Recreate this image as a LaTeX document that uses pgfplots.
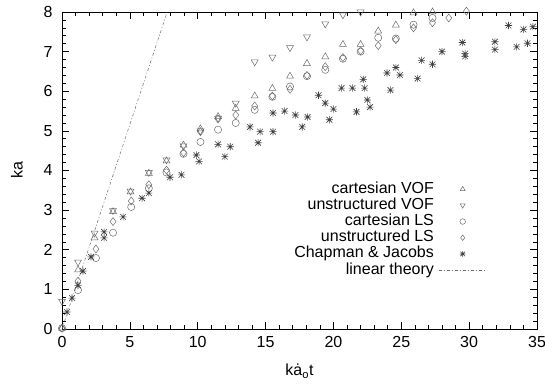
\documentclass[border=0pt]{standalone}
\usepackage{fontspec}
\setmainfont{Liberation Sans}
\usepackage{pgfplots}
\pgfplotsset{compat=1.18}
\usetikzlibrary{calc}
\pgfdeclareplotmark{cj}{%
  \pgfpathmoveto{\pgfqpoint{-\pgfplotmarksize}{0pt}}\pgfpathlineto{\pgfqpoint{\pgfplotmarksize}{0pt}}%
  \pgfpathmoveto{\pgfqpoint{0pt}{-\pgfplotmarksize}}\pgfpathlineto{\pgfqpoint{0pt}{\pgfplotmarksize}}%
  \pgfpathmoveto{\pgfqpoint{-0.8\pgfplotmarksize}{-0.8\pgfplotmarksize}}\pgfpathlineto{\pgfqpoint{0.8\pgfplotmarksize}{0.8\pgfplotmarksize}}%
  \pgfpathmoveto{\pgfqpoint{-0.8\pgfplotmarksize}{0.8\pgfplotmarksize}}\pgfpathlineto{\pgfqpoint{0.8\pgfplotmarksize}{-0.8\pgfplotmarksize}}%
  \pgfusepathqstroke}
\pgfplotsset{
  lineimg/.style={legend image code/.code={\draw[##1] (0pt,0pt) -- (48pt,0pt);}},
  markimg/.style={legend image code/.code={\draw[##1, mark size=2.8pt] plot coordinates {(24pt,0pt)};}},
}
\definecolor{mk}{gray}{0.42}
\definecolor{mkd}{gray}{0.25}
\begin{document}
\begin{tikzpicture}
\begin{axis}[
  name=ax,
  scale only axis,
  width=475pt, height=317pt,
  xmin=0, xmax=35, ymin=0, ymax=8,
  xtick={0,5,...,35}, ytick={0,1,...,8},
  minor x tick num=4, minor y tick num=4,
  tick align=inside,
  major tick length=7pt, minor tick length=4pt,
  every tick/.style={black, line width=0.6pt},
  axis line style={line width=0.9pt},
  clip=false,
  font=\fontsize{16}{19}\selectfont,
  /pgf/number format/assume math mode=true,
  xticklabel style={yshift=-4pt},
  yticklabel style={xshift=-6pt},
  xlabel={k\.a\textsubscript{o}t},
  ylabel={ka},
  xlabel style={at={(axis description cs:0.5,-0.148)}, anchor=base},
  ylabel style={at={(axis description cs:-0.095,0.5)}, anchor=center},
  legend plot pos=right,
  legend cell align=right,
  legend style={draw=none, fill=none, at={(0.895,0.467)}, anchor=north east,
    inner sep=0pt, row sep=0.2pt, column sep=4pt,
    nodes={inner sep=0.5pt, text height=11.5pt, text depth=3.5pt},
    font=\fontsize{16}{19}\selectfont},
]
\addplot[only marks, mark=triangle, mark size=4pt, mk, line width=0.5pt, markimg] coordinates {
(0,0.02) (1.18,1.49) (2.4,2.30) (3.76,2.96) (5.05,3.46) (6.4,3.93) (7.7,4.24)
(8.95,4.64) (10.2,5.05) (11.5,5.36) (12.8,5.57) (14.2,5.88) (15.5,6.07) (16.8,6.38)
(18.05,6.70) (19.4,6.87) (20.7,7.18) (22.0,7.18) (23.3,7.52) (24.6,7.67) (25.9,7.98) (27.3,8.0)};
\addlegendentry{cartesian VOF}
\addplot[only marks, mark=triangle, mark size=4pt, mark options={rotate=180}, mk, line width=0.5pt, markimg] coordinates {
(0,0.7) (1.18,1.69) (2.4,2.42) (3.76,2.99) (5.05,3.48) (6.4,3.95) (7.7,4.27)
(8.95,4.62) (10.2,5.0) (11.5,5.32) (12.8,5.70) (14.2,6.74) (15.5,6.86) (16.8,7.1)
(18.05,7.37) (19.4,7.7) (20.7,7.93) (22.0,8.0)};
\addlegendentry{unstructured VOF}
\addplot[only marks, mark=o, mark size=3.6pt, mk, line width=0.5pt, markimg] coordinates {
(0,0.02) (1.18,0.98) (2.5,1.79) (3.76,2.43) (5.1,3.08) (6.4,3.55) (7.7,3.95)
(8.95,4.42) (10.2,4.72) (11.5,5.03) (12.8,5.2) (14.2,5.53) (15.5,5.86) (16.8,6.12)
(18.05,6.38) (19.4,6.54) (20.7,6.82) (22.0,7.0) (23.3,7.35) (24.6,7.33) (25.9,7.68) (27.3,7.85)};
\addlegendentry{cartesian LS}
\addplot[only marks, mark=diamond, mark size=4pt, mk, line width=0.5pt, markimg] coordinates {
(0,0.02) (1.18,1.21) (2.5,2.02) (3.76,2.71) (5.1,3.23) (6.4,3.64) (7.7,4.01)
(8.95,4.45) (10.2,4.98) (11.5,5.30) (12.8,5.40) (14.2,5.63) (15.5,5.88) (16.8,6.05)
(18.05,6.40) (19.4,6.62) (20.7,6.85) (22.0,7.02) (23.3,7.15) (24.6,7.30) (25.9,7.60)
(27.3,7.73) (28.5,7.85) (29.8,8.02)};
\addlegendentry{unstructured LS}
\addplot[only marks, mark=cj, mark size=3.6pt, mkd, line width=0.6pt, markimg] coordinates {
(0.37,0.43) (0.74,0.78) (1.18,1.1) (1.55,1.46) (2.14,1.82) (3.1,2.45) (3.1,2.3)
(4.5,2.83) (5.9,3.3) (6.4,3.43) (7.96,3.83) (8.8,3.89) (9.9,4.39) (10.1,4.23)
(11.5,4.66) (12.0,4.35) (12.4,4.6) (13.85,5.1) (14.45,4.7) (14.6,4.98) (15.55,4.98)
(15.55,5.45) (16.4,5.5) (17.2,5.4) (17.7,5.1) (18.1,5.35) (18.9,5.9) (19.4,5.7)
(19.7,5.28) (20.0,5.55) (20.6,6.08) (21.4,6.08) (21.7,5.48) (22.2,6.3) (22.3,6.08)
(22.5,5.78) (22.7,5.6) (23.95,6.46) (24.2,6.03) (24.6,6.6) (24.9,6.41) (26.2,6.32)
(26.5,6.78) (27.3,6.68) (28.0,7.0) (29.5,7.23) (29.7,6.95) (29.7,6.88) (31.9,7.25)
(31.9,7.05) (32.9,7.66) (33.5,7.12) (34.0,7.56) (34.3,7.21) (34.7,7.63)};
\addlegendentry{Chapman \& Jacobs}
\addplot[mk, line width=0.5pt, dash pattern=on 3pt off 2pt on 1pt off 2pt, lineimg] coordinates {(0,0) (7.75,8)};
\addlegendentry{linear theory}
\end{axis}
\pgfresetboundingbox
\path[use as bounding box] ($(ax.south west)+(-62pt,-56pt)$) rectangle ($(ax.north east)+(8pt,12pt)$);
\end{tikzpicture}
\end{document}
